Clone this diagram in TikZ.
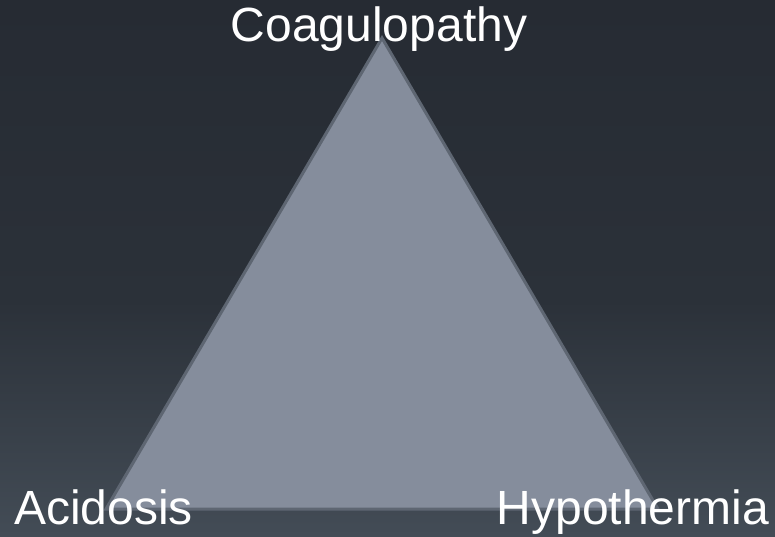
\documentclass[tikz,border=0pt]{standalone}
\usepackage{fontspec}
\setmainfont{Liberation Sans}
\definecolor{bgtop}{HTML}{262B33}
\definecolor{bgmid}{HTML}{2B3139}
\definecolor{bgbot}{HTML}{434C56}
\definecolor{trifill}{HTML}{858D9C}
\definecolor{triedge}{HTML}{5E6672}
\tikzset{
  lbl/.style={text=white, inner sep=0pt, font=\fontsize{48}{56}\selectfont},
  tri/.style={fill=trifill, draw=triedge, line width=3pt, line join=miter}
}
\begin{document}
\begin{tikzpicture}[x=1pt,y=-1pt]
\useasboundingbox (0,0) rectangle (775,536);
\shade[top color=bgtop, bottom color=bgmid] (0,0) rectangle (775,300.5);
\shade[top color=bgmid, bottom color=bgbot] (0,300) rectangle (775,536);
\coordinate (apex) at (382,38);
\coordinate (bl) at (106,509);
\coordinate (br) at (658,509);
\path[tri] (apex) -- (br) -- (bl) -- cycle;
\node[lbl, anchor=base] (coag) at (379,41) {Coagulopathy};
\node[lbl, anchor=base west] (acid) at (14,524) {Acidosis};
\node[lbl, anchor=base east] (hypo) at (769,524) {Hypothermia};
\end{tikzpicture}
\end{document}
